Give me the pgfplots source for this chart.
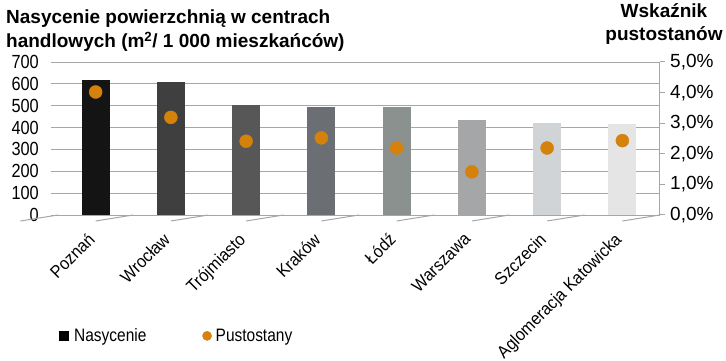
\documentclass[border=0pt]{standalone}
\usepackage{fontspec}
\setmainfont{Liberation Sans}
\newfontfamily\narrow[FakeStretch=0.86]{Liberation Sans}
\newfontfamily\semi[FakeStretch=0.92]{Liberation Sans}
\usepackage{pgfplots}
\pgfplotsset{compat=1.18}
\definecolor{gridc}{HTML}{A6A6A6}
\definecolor{dotc}{HTML}{D4820C}
\definecolor{c1}{HTML}{141414}
\definecolor{c2}{HTML}{3F3F3F}
\definecolor{c3}{HTML}{575757}
\definecolor{c4}{HTML}{6B6E72}
\definecolor{c5}{HTML}{8A918F}
\definecolor{c6}{HTML}{A5A6A8}
\definecolor{c7}{HTML}{D1D4D6}
\definecolor{c8}{HTML}{E5E5E5}
\newcommand{\tf}{\fontsize{19}{19}\selectfont}
\begin{document}
\begin{tikzpicture}
\begin{axis}[name=ax,
  scale only axis, width=602pt, height=153pt,
  xmin=0.5, xmax=8.5, ymin=0, ymax=700,
  ytick={0,100,...,700},
  axis y line*=left, axis x line*=bottom,
  y axis line style={draw=none},
  x axis line style={gridc, line width=1pt},
  ymajorgrids, grid style={gridc, line width=1pt},
  ytick style={gridc, line width=1pt},
  major tick length=7pt, tick align=outside,
  xtick={1,...,8},
  xticklabels={Poznań,Wrocław,Trójmiasto,Kraków,Łódź,Warszawa,Szczecin,Aglomeracja Katowicka},
  xtick style={draw=none},
  xticklabel style={rotate=45, anchor=north east, font=\semi\fontsize{17.5}{17.5}\selectfont, inner sep=1pt, xshift=-12pt, yshift=0.5pt},
  yticklabel style={font=\narrow\tf, inner sep=2pt, xshift=-10pt},
  /pgf/number format/assume math mode=true,
  clip=false,
]
\addplot[ybar, bar width=28pt, bar shift=0pt, fill=c1, draw=none] coordinates {(1,619)};
\addplot[ybar, bar width=28pt, bar shift=0pt, fill=c2, draw=none] coordinates {(2,608)};
\addplot[ybar, bar width=28pt, bar shift=0pt, fill=c3, draw=none] coordinates {(3,503)};
\addplot[ybar, bar width=28pt, bar shift=0pt, fill=c4, draw=none] coordinates {(4,495)};
\addplot[ybar, bar width=28pt, bar shift=0pt, fill=c5, draw=none] coordinates {(5,496)};
\addplot[ybar, bar width=28pt, bar shift=0pt, fill=c6, draw=none] coordinates {(6,434)};
\addplot[ybar, bar width=28pt, bar shift=0pt, fill=c7, draw=none] coordinates {(7,422)};
\addplot[ybar, bar width=28pt, bar shift=0pt, fill=c8, draw=none] coordinates {(8,415)};
\pgfplotsinvokeforeach{0.5,1.5,...,8.5}{
  \draw[gridc, line width=1pt] (axis cs:#1,0) -- ++(0,-6pt);
}
\end{axis}
\begin{axis}[
  scale only axis, width=602pt, height=153pt,
  xmin=0.5, xmax=8.5, ymin=0, ymax=5,
  axis y line*=right, axis x line=none,
  ytick={0,1,...,5},
  yticklabel={\pgfmathprintnumber[fixed, fixed zerofill, precision=1, use comma]{\tick}\%},
  y axis line style={gridc, line width=1pt},
  ytick style={gridc, line width=1pt},
  major tick length=5pt, tick align=outside,
  yticklabel style={font=\tf, inner sep=2pt, xshift=3pt},
  /pgf/number format/assume math mode=true,
  legend style={draw=none, fill=none, at={(0,-0.79)}, anchor=west, xshift=-2pt, font=\narrow\fontsize{18}{18}\selectfont, legend columns=2, /tikz/every even column/.append style={column sep=54pt}},
  legend cell align=left,
]
\addlegendimage{only marks, mark=square*, mark size=4.5pt, black}
\addlegendentry{\hspace{4pt}Nasycenie}
\addlegendimage{only marks, mark=*, mark size=4.6pt, dotc}
\addlegendentry{\hspace{2pt}Pustostany}
\addplot[only marks, mark=*, mark size=6.5pt, dotc, forget plot] coordinates {
(1,4.02) (2,3.19) (3,2.41) (4,2.52) (5,2.19) (6,1.41) (7,2.19) (8,2.43)};
\end{axis}
\begin{scope}[shift={(ax.south west)}]
\node[anchor=base west, inner sep=0pt, font=\bfseries\tf] at (-52pt,191pt) {Nasycenie powierzchnią w centrach};
\node[anchor=base west, inner sep=0pt, font=\bfseries\tf] at (-52pt,167pt) {handlowych (m\textsuperscript{2}/ 1 000 mieszkańców)};
\node[anchor=base, inner sep=0pt, font=\bfseries\tf] at (606pt,197pt) {Wskaźnik};
\node[anchor=base, inner sep=0pt, font=\bfseries\tf] at (606pt,174pt) {pustostanów};
\pgfresetboundingbox
\path (-58pt,-146pt) rectangle (668pt,215pt);
\end{scope}
\end{tikzpicture}
\end{document}
